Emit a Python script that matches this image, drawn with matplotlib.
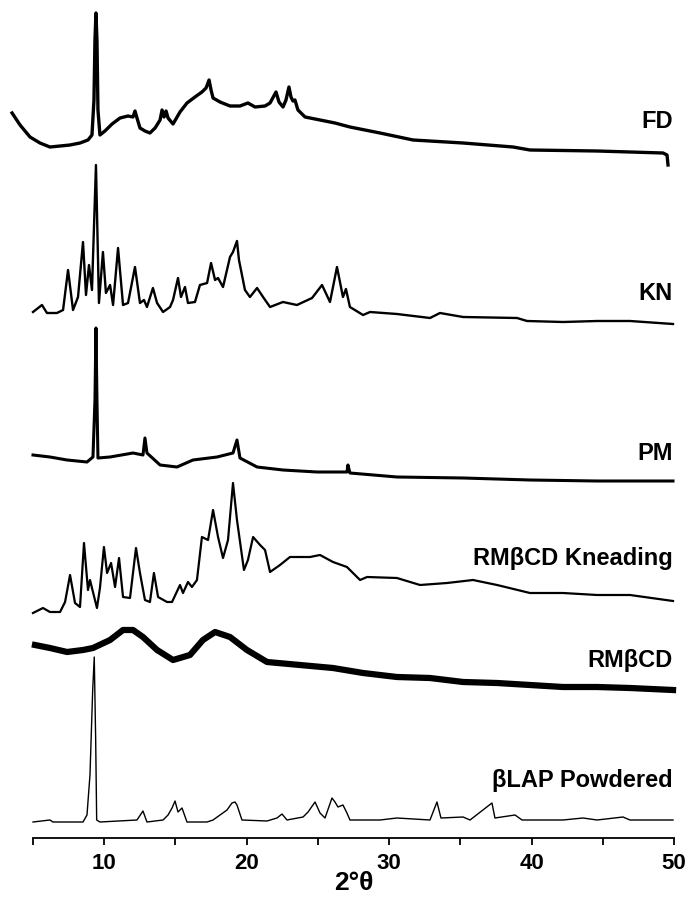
import matplotlib
matplotlib.use("Agg")
import matplotlib.pyplot as plt
from matplotlib.ticker import MultipleLocator

"""
Stacked XRD patterns of beta-lapachone samples
"""

# 2theta (deg) / intensity (a.u.) for each sample
fd_2theta = [3.53, 4.09, 4.79, 5.49, 6.19, 6.90, 7.60, 8.30, 8.86, 9.14, 9.28, 9.35, 9.42, 9.49, 9.56,
             9.70, 10.05, 10.55, 11.11, 11.67, 12.02, 12.16, 12.30, 12.51, 12.86, 13.21, 13.57, 13.92,
             14.06, 14.20, 14.34, 14.48, 14.83, 15.32, 15.81, 16.37, 16.86, 17.15, 17.36, 17.50, 17.64,
             18.13, 18.83, 19.53, 20.09, 20.59, 21.29, 21.64, 22.06, 22.27, 22.55, 22.76, 22.97, 23.11,
             23.25, 23.39, 23.60, 24.10, 25.15, 26.20, 27.25, 29.36, 31.68, 35.19, 38.70, 39.89, 44.60,
             49.23, 49.51, 49.58]
fd_counts = [57, 45, 33, 27, 23, 24, 25, 27, 30, 35, 70, 130, 157, 130, 60,
             35, 39, 46, 52, 54, 53, 59, 52, 42, 39, 37, 42, 50,
             60, 53, 59, 52, 46, 58, 67, 73, 78, 82, 90, 80, 72,
             68, 64, 64, 67, 63, 64, 67, 78, 68, 63, 70, 83, 73,
             69, 70, 60, 53, 50, 47, 43, 37, 30, 27, 23, 20, 19,
             17, 15, 5]

kn_2theta = [5.00, 5.63, 5.98, 6.68, 7.11, 7.46, 7.81, 8.16, 8.51, 8.72, 8.93, 9.14, 9.42, 9.63, 9.91,
             10.12, 10.41, 10.62, 10.97, 11.32, 11.67, 12.16, 12.51, 12.79, 13.00, 13.42, 13.71, 14.13,
             14.62, 14.83, 15.18, 15.39, 15.67, 15.88, 16.37, 16.72, 17.22, 17.50, 17.78, 17.99, 18.34,
             18.83, 19.04, 19.32, 19.46, 19.88, 20.23, 20.73, 21.15, 21.64, 22.55, 23.53, 24.59, 25.29,
             25.85, 26.34, 26.76, 26.97, 27.25, 28.17, 28.66, 30.55, 32.87, 33.57, 35.19, 38.98, 39.68,
             42.21, 44.60, 46.91, 49.93]
kn_counts = [13, 20, 12, 12, 15, 55, 15, 28, 83, 30, 60, 35, 160, 22, 73,
             32, 40, 20, 77, 20, 22, 58, 22, 25, 18, 37, 22, 13,
             18, 25, 47, 28, 38, 22, 23, 40, 42, 62, 45, 47, 38,
             68, 73, 84, 65, 35, 28, 37, 28, 18, 23, 20, 27, 40,
             23, 58, 28, 36, 18, 10, 13, 11, 7, 12, 8, 7, 4,
             3, 4, 4, 1]

pm_2theta = [5.00, 6.19, 7.39, 8.79, 9.21, 9.35, 9.42, 9.49, 9.56, 10.41, 12.02, 12.72, 12.86, 13.00,
             13.92, 15.11, 16.23, 17.92, 19.04, 19.32, 19.53, 20.73, 22.55, 24.94, 27.04, 27.11, 27.25,
             30.55, 35.19, 39.89, 44.60, 49.93]
pm_counts = [27, 25, 22, 20, 25, 82, 154, 82, 24, 25, 29, 27, 44, 29,
             17, 15, 22, 25, 29, 42, 24, 15, 12, 10, 10, 17, 9,
             5, 4, 2, 1, 1]

kneading_2theta = [5.00, 5.70, 6.19, 6.90, 7.25, 7.60, 7.95, 8.30, 8.58, 8.86, 9.00, 9.49, 9.70, 9.98,
                   10.20, 10.48, 10.76, 11.04, 11.32, 11.81, 12.23, 12.51, 12.86, 13.21, 13.49, 13.78,
                   14.41, 14.76, 15.32, 15.53, 15.88, 16.16, 16.51, 16.86, 17.29, 17.64, 17.99, 18.34,
                   18.69, 19.04, 19.32, 19.81, 20.09, 20.45, 20.94, 21.29, 21.64, 22.34, 23.04, 23.74,
                   24.45, 25.15, 26.06, 27.04, 27.96, 28.45, 30.55, 32.17, 34.07, 35.89, 37.58, 39.89,
                   42.21, 44.60, 46.91, 49.93]
kneading_counts = [2, 7, 3, 3, 13, 40, 12, 8, 72, 25, 35, 7, 27, 68,
                   42, 52, 28, 57, 18, 17, 67, 42, 15, 13, 42, 18,
                   13, 13, 30, 22, 33, 28, 35, 78, 75, 105, 78, 57,
                   75, 132, 95, 45, 55, 78, 70, 65, 43, 50, 58, 58,
                   58, 60, 53, 48, 35, 38, 37, 30, 32, 35, 30, 22,
                   22, 20, 20, 14]

rmbcd_2theta = [5.14, 6.19, 7.39, 8.51, 9.21, 10.41, 11.32, 12.02, 12.72, 13.71, 14.83, 16.02, 16.93,
                17.78, 18.83, 20.02, 21.43, 23.74, 26.06, 28.17, 30.55, 32.87, 35.19, 37.58, 39.89,
                42.21, 44.60, 46.91, 49.93]
rmbcd_counts = [47, 44, 40, 42, 44, 52, 62, 62, 55, 42, 32, 37, 52,
                60, 55, 42, 30, 27, 24, 19, 15, 14, 10, 9, 7,
                5, 5, 4, 2]

blap_2theta = [5.00, 6.19, 6.40, 8.51, 8.79, 9.00, 9.19, 9.30, 9.40, 9.47, 9.70, 12.30, 12.72, 13.00,
               14.13, 14.48, 14.76, 14.97, 15.18, 15.46, 15.81, 17.22, 17.64, 18.62, 18.97, 19.18,
               19.32, 19.67, 21.43, 22.13, 22.48, 22.83, 23.96, 24.31, 24.80, 25.15, 25.50, 25.99,
               26.20, 26.41, 26.76, 27.04, 27.25, 29.36, 30.55, 32.87, 33.36, 33.64, 35.19, 35.68,
               37.22, 37.43, 38.84, 39.33, 42.21, 43.61, 44.60, 46.42, 46.91, 49.93]
blap_counts = [1, 3, 1, 1, 8, 48, 133, 166, 83, 3, 1, 3, 12, 1,
               3, 8, 15, 22, 11, 15, 1, 1, 3, 13, 20, 21,
               18, 3, 2, 5, 9, 3, 6, 11, 21, 10, 5, 25,
               21, 16, 18, 10, 3, 3, 5, 3, 21, 5, 6, 3,
               20, 5, 8, 3, 3, 5, 3, 6, 3, 3]

labels = ["FD", "KN", "PM", "RM\u03b2CD Kneading", "RM\u03b2CD", "\u03b2LAP Powdered"]

# stacking: vertical shift, label height, line weight
offsets = [668, 513, 356, 223, 146, 15]
label_y = [716, 545, 385, 280, 178, 58]
widths = [2.4, 1.7, 2.2, 1.6, 4.5, 1.0]

series = [(fd_2theta, fd_counts), (kn_2theta, kn_counts), (pm_2theta, pm_counts),
          (kneading_2theta, kneading_counts), (rmbcd_2theta, rmbcd_counts),
          (blap_2theta, blap_counts)]

plt.rcParams['font.family'] = ['Liberation Sans', 'DejaVu Sans']

fig = plt.figure(figsize=(6.88, 8.99), dpi=100)
ax = fig.add_axes([33 / 688, 61 / 899, 641 / 688, 838 / 899])

for (tt, counts), off, lw in zip(series, offsets, widths):
    ax.plot(tt, [c + off for c in counts], color='black', linewidth=lw, clip_on=False,
            solid_joinstyle='round')

for name, y in zip(labels, label_y):
    ax.text(49.93, y, name, ha='right', va='center', fontsize=17, fontweight='bold')

ax.set_xlim(5, 50)
ax.set_ylim(0, 838)

#only the bottom axis is shown
for side in ['left', 'right', 'top']:
    ax.spines[side].set_visible(False)
ax.spines['bottom'].set_linewidth(1.3)
ax.set_yticks([])

ax.xaxis.set_major_locator(MultipleLocator(10))
ax.xaxis.set_minor_locator(MultipleLocator(5))
ax.tick_params(axis='x', which='both', direction='out', length=5, width=1.3, pad=6,
               labelsize=16)
for lab in ax.get_xticklabels():
    lab.set_fontweight('bold')

ax.set_xlabel("2\u00b0\u03b8", fontsize=19, fontweight='bold', labelpad=-2)

fig.savefig("out.png", dpi=100)
